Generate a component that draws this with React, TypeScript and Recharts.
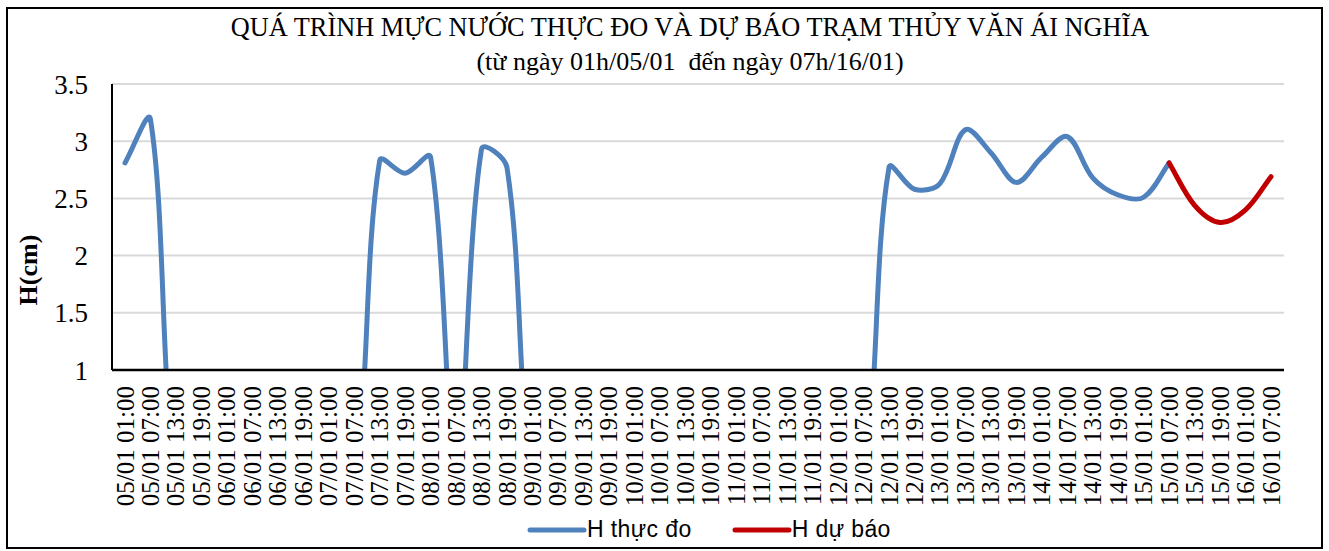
import { LineChart, Line, XAxis, YAxis, CartesianGrid, Legend } from 'recharts';

// time stamps (every 6 hours)
const times = [
  '05/01 01:00', '05/01 07:00', '05/01 13:00', '05/01 19:00',
  '06/01 01:00', '06/01 07:00', '06/01 13:00', '06/01 19:00',
  '07/01 01:00', '07/01 07:00', '07/01 13:00', '07/01 19:00',
  '08/01 01:00', '08/01 07:00', '08/01 13:00', '08/01 19:00',
  '09/01 01:00', '09/01 07:00', '09/01 13:00', '09/01 19:00',
  '10/01 01:00', '10/01 07:00', '10/01 13:00', '10/01 19:00',
  '11/01 01:00', '11/01 07:00', '11/01 13:00', '11/01 19:00',
  '12/01 01:00', '12/01 07:00', '12/01 13:00', '12/01 19:00',
  '13/01 01:00', '13/01 07:00', '13/01 13:00', '13/01 19:00',
  '14/01 01:00', '14/01 07:00', '14/01 13:00', '14/01 19:00',
  '15/01 01:00', '15/01 07:00', '15/01 13:00', '15/01 19:00',
  '16/01 01:00', '16/01 07:00',
];

// H thực đo (0 = no record)
const measured = [
  2.81, 3.19, 0, 0,
  0, 0, 0, 0,
  0, 0, 2.83, 2.72,
  2.86, 0, 2.93, 2.77,
  0, 0, 0, 0,
  0, 0, 0, 0,
  0, 0, 0, 0,
  0, 0, 2.77, 2.58,
  2.63, 3.1, 2.9, 2.64,
  2.86, 3.04, 2.68, 2.53,
  2.51, 2.81, null, null,
  null, null,
];

// H dự báo
const forecast = [
  null, null, null, null, null, null, null, null, null, null,
  null, null, null, null, null, null, null, null, null, null,
  null, null, null, null, null, null, null, null, null, null,
  null, null, null, null, null, null, null, null, null, null,
  null, 2.81, 2.44, 2.29, 2.4, 2.69,
];

const yTicks = [1, 1.5, 2, 2.5, 3, 3.5];
const legendOrder = ['H thực đo', 'H dự báo'];

const data = times.map((t, i) => ({ t, measured: measured[i], forecast: forecast[i] }));

const serif = '"Liberation Serif", "Times New Roman", serif';
const sans = '"Liberation Sans", Arial, sans-serif';

// Excel-like smoothed line: tangent (next - prev), split by chord lengths
function excelSmooth(context: any) {
  let pts: number[][] = [];
  return {
    areaStart() {},
    areaEnd() {},
    lineStart() {
      pts = [];
    },
    point(x: number, y: number) {
      pts.push([+x, +y]);
    },
    lineEnd() {
      const n = pts.length;
      if (!n) return;
      const dist = (a: number[], b: number[]) => Math.hypot(b[0] - a[0], b[1] - a[1]);
      // control points around each point
      const cin: number[][] = [];
      const cout: number[][] = [];
      for (let i = 0; i < n; i++) {
        const prev = pts[i === 0 ? 0 : i - 1];
        const next = pts[i === n - 1 ? n - 1 : i + 1];
        const d0 = dist(prev, pts[i]);
        const d1 = dist(pts[i], next);
        const s = d0 + d1 || 1;
        const tx = next[0] - prev[0];
        const ty = next[1] - prev[1];
        cin[i] = [pts[i][0] - (tx * d0) / s / 3, pts[i][1] - (ty * d0) / s / 3];
        cout[i] = [pts[i][0] + (tx * d1) / s / 3, pts[i][1] + (ty * d1) / s / 3];
      }
      context.moveTo(pts[0][0], pts[0][1]);
      for (let i = 0; i < n - 1; i++) {
        context.bezierCurveTo(cout[i][0], cout[i][1], cin[i + 1][0], cin[i + 1][1], pts[i + 1][0], pts[i + 1][1]);
      }
    },
  };
}

const XTick = ({ x, y, payload }: any) => (
  <text
    x={x}
    y={y}
    transform={`rotate(-90 ${x} ${y})`}
    textAnchor="end"
    dominantBaseline="central"
    fontFamily={serif}
    fontSize={25}
    fill="#000"
  >
    {payload.value}
  </text>
);

const renderLegend = ({ payload }: any) => {
  const items = [...(payload || [])].sort(
    (a: any, b: any) => legendOrder.indexOf(a.value) - legendOrder.indexOf(b.value)
  );
  return (
    <div style={{ display: 'flex', alignItems: 'center', fontFamily: sans, fontSize: 23, color: '#000' }}>
      {items.map((p: any) => (
        <div key={p.value} style={{ display: 'flex', alignItems: 'center', marginRight: 40 }}>
          <svg width={60} height={10}>
            <line x1={3} y1={5} x2={57} y2={5} stroke={p.color} strokeWidth={5} strokeLinecap="round" />
          </svg>
          <span style={{ letterSpacing: 0.4 }}>{p.value}</span>
        </div>
      ))}
    </div>
  );
};

export default function App() {
  return (
    <div style={{ position: 'absolute', left: 0, top: 0, width: 1329, height: 551, background: '#fff' }}>
      <div
        style={{
          position: 'absolute',
          left: 6,
          top: 7,
          width: 1317,
          height: 542,
          border: '2px solid #000',
          boxSizing: 'border-box',
        }}
      />
      <div
        style={{
          position: 'absolute',
          left: 230,
          top: 13,
          width: 920,
          textAlign: 'center',
          whiteSpace: 'nowrap',
          fontFamily: serif,
          fontSize: 26.3,
          lineHeight: '30px',
          color: '#000',
        }}
      >
        QUÁ TRÌNH MỰC NƯỚC THỰC ĐO VÀ DỰ BÁO TRẠM THỦY VĂN ÁI NGHĨA
      </div>
      <div
        style={{
          position: 'absolute',
          left: 230,
          top: 47,
          width: 920,
          textAlign: 'center',
          whiteSpace: 'pre',
          fontFamily: serif,
          fontSize: 26,
          lineHeight: '30px',
          color: '#000',
        }}
      >
        (từ ngày 01h/05/01  đến ngày 07h/16/01)
      </div>
      <div
        style={{
          position: 'absolute',
          left: 29,
          top: 270,
          transform: 'translate(-50%, -50%) rotate(-90deg)',
          whiteSpace: 'nowrap',
          fontFamily: serif,
          fontSize: 26,
          fontWeight: 'bold',
          color: '#000',
        }}
      >
        H(cm)
      </div>
      <div style={{ position: 'absolute', left: 0, top: 0 }}>
        <LineChart width={1329} height={551} data={data} margin={{ top: 84, right: 45, left: 52, bottom: 41 }}>
          <CartesianGrid vertical={false} stroke="#d9d9d9" strokeWidth={2} />
          <XAxis
            dataKey="t"
            interval={0}
            padding={{ left: 13, right: 13 }}
            height={140}
            tickLine={false}
            tickSize={0}
            tickMargin={16}
            axisLine={{ stroke: '#000', strokeWidth: 2.5 }}
            tick={<XTick />}
          />
          <XAxis xAxisId="top" dataKey="t" orientation="top" height={0} tick={false} tickLine={false} axisLine={{ stroke: '#000', strokeWidth: 2 }} />
          <YAxis
            domain={[1, 3.5]}
            ticks={yTicks}
            allowDataOverflow
            width={60}
            tickLine={false}
            tickSize={0}
            tickMargin={24}
            axisLine={{ stroke: '#000', strokeWidth: 2 }}
            tick={{ fontFamily: serif, fontSize: 27, fill: '#000' }}
          />
          <YAxis yAxisId="right" orientation="right" domain={[1, 3.5]} width={0} tick={false} tickLine={false} axisLine={{ stroke: '#000', strokeWidth: 2 }} />
          <Line
            dataKey="measured"
            name="H thực đo"
            type={excelSmooth as any}
            stroke="#4f81bd"
            strokeWidth={5}
            strokeLinecap="round"
            strokeLinejoin="round"
            dot={false}
            activeDot={false}
            isAnimationActive={false}
          />
          <Line
            dataKey="forecast"
            name="H dự báo"
            type={excelSmooth as any}
            stroke="#c00000"
            strokeWidth={5}
            strokeLinecap="round"
            strokeLinejoin="round"
            dot={false}
            activeDot={false}
            isAnimationActive={false}
          />
          <Legend
            verticalAlign="middle"
            align="center"
            content={renderLegend}
            wrapperStyle={{ top: 516, left: 527, width: 460, height: 30 }}
          />
        </LineChart>
      </div>
    </div>
  );
}
